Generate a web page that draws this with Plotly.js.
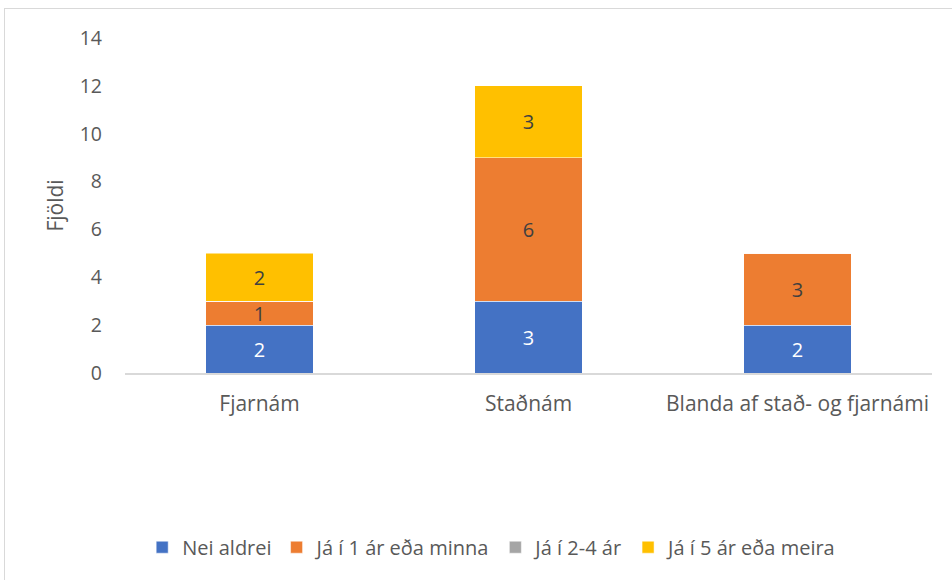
<!DOCTYPE html>
<html>
<head>
<meta charset="utf-8">
<script src="https://cdn.plot.ly/plotly-3.0.1.min.js"></script>
<style>
html,body{margin:0;padding:0;background:#fff;overflow:hidden;}
#chart{width:952px;height:580px;}
#frame{position:absolute;left:4px;top:8px;width:980px;height:600px;border:1px solid #d9d9d9;pointer-events:none;}
</style>
</head>
<body>
<div id="chart"></div>
<div id="frame"></div>
<script>
const categories = ['Fjarnám', 'Staðnám', 'Blanda af stað- og fjarnámi'];
const seriesNames = ['Nei aldrei', 'Já í 1 ár eða minna', 'Já í 2-4 ár', 'Já í 5 ár eða meira'];
const neiAldrei = [2, 3, 2];
const ja1 = [1, 6, 3];
const ja24 = [0, 0, 0];
const ja5 = [2, 3, 0];
const yTicks = [0, 2, 4, 6, 8, 10, 12, 14];

const colors = ['#4472C4', '#ED7D31', '#A5A5A5', '#FFC000'];
const labelColors = ['#ffffff', '#404040', '#404040', '#404040'];
const allValues = [neiAldrei, ja1, ja24, ja5];
const FONT = '"Open Sans", sans-serif';

const traces = allValues.map((vals, i) => ({
  type: 'bar',
  name: seriesNames[i],
  x: categories,
  y: vals,
  text: vals.map(v => v ? String(v) : ''),
  textposition: 'inside',
  insidetextanchor: 'middle',
  textangle: 0,
  constraintext: 'none',
  textfont: {family: FONT, size: 20, color: labelColors[i]},
  marker: {color: colors[i], line: {color: '#ffffff', width: 0.5}},
  width: 0.4,
  hoverinfo: 'skip'
}));

const layout = {
  width: 952, height: 580,
  barmode: 'stack',
  margin: {l: 125, r: 20, t: 38, b: 207},
  paper_bgcolor: '#ffffff',
  plot_bgcolor: '#ffffff',
  font: {family: FONT, color: '#595959', size: 20},
  showlegend: true,
  legend: {
    orientation: 'h', x: 0.455, xanchor: 'center', y: -0.52, yanchor: 'middle',
    font: {family: FONT, size: 20, color: '#595959'},
    traceorder: 'normal', itemclick: false, itemdoubleclick: false
  },
  xaxis: {
    showline: true, linecolor: '#d9d9d9', linewidth: 1.5,
    showgrid: false, zeroline: false, ticks: '',
    ticklabelstandoff: 11,
    tickfont: {family: FONT, size: 21, color: '#595959'}
  },
  yaxis: {
    range: [0, 14], tickvals: yTicks, ticktext: yTicks.map(String),
    showgrid: false, zeroline: false, showline: false, ticks: '',
    ticklabelstandoff: 22,
    tickfont: {family: FONT, size: 19.5, color: '#595959'},
    title: {text: 'Fjöldi', font: {family: FONT, size: 21, color: '#595959'}, standoff: 10}
  }
};

Plotly.newPlot('chart', traces, layout, {displayModeBar: false, staticPlot: true});
</script>
</body>
</html>
